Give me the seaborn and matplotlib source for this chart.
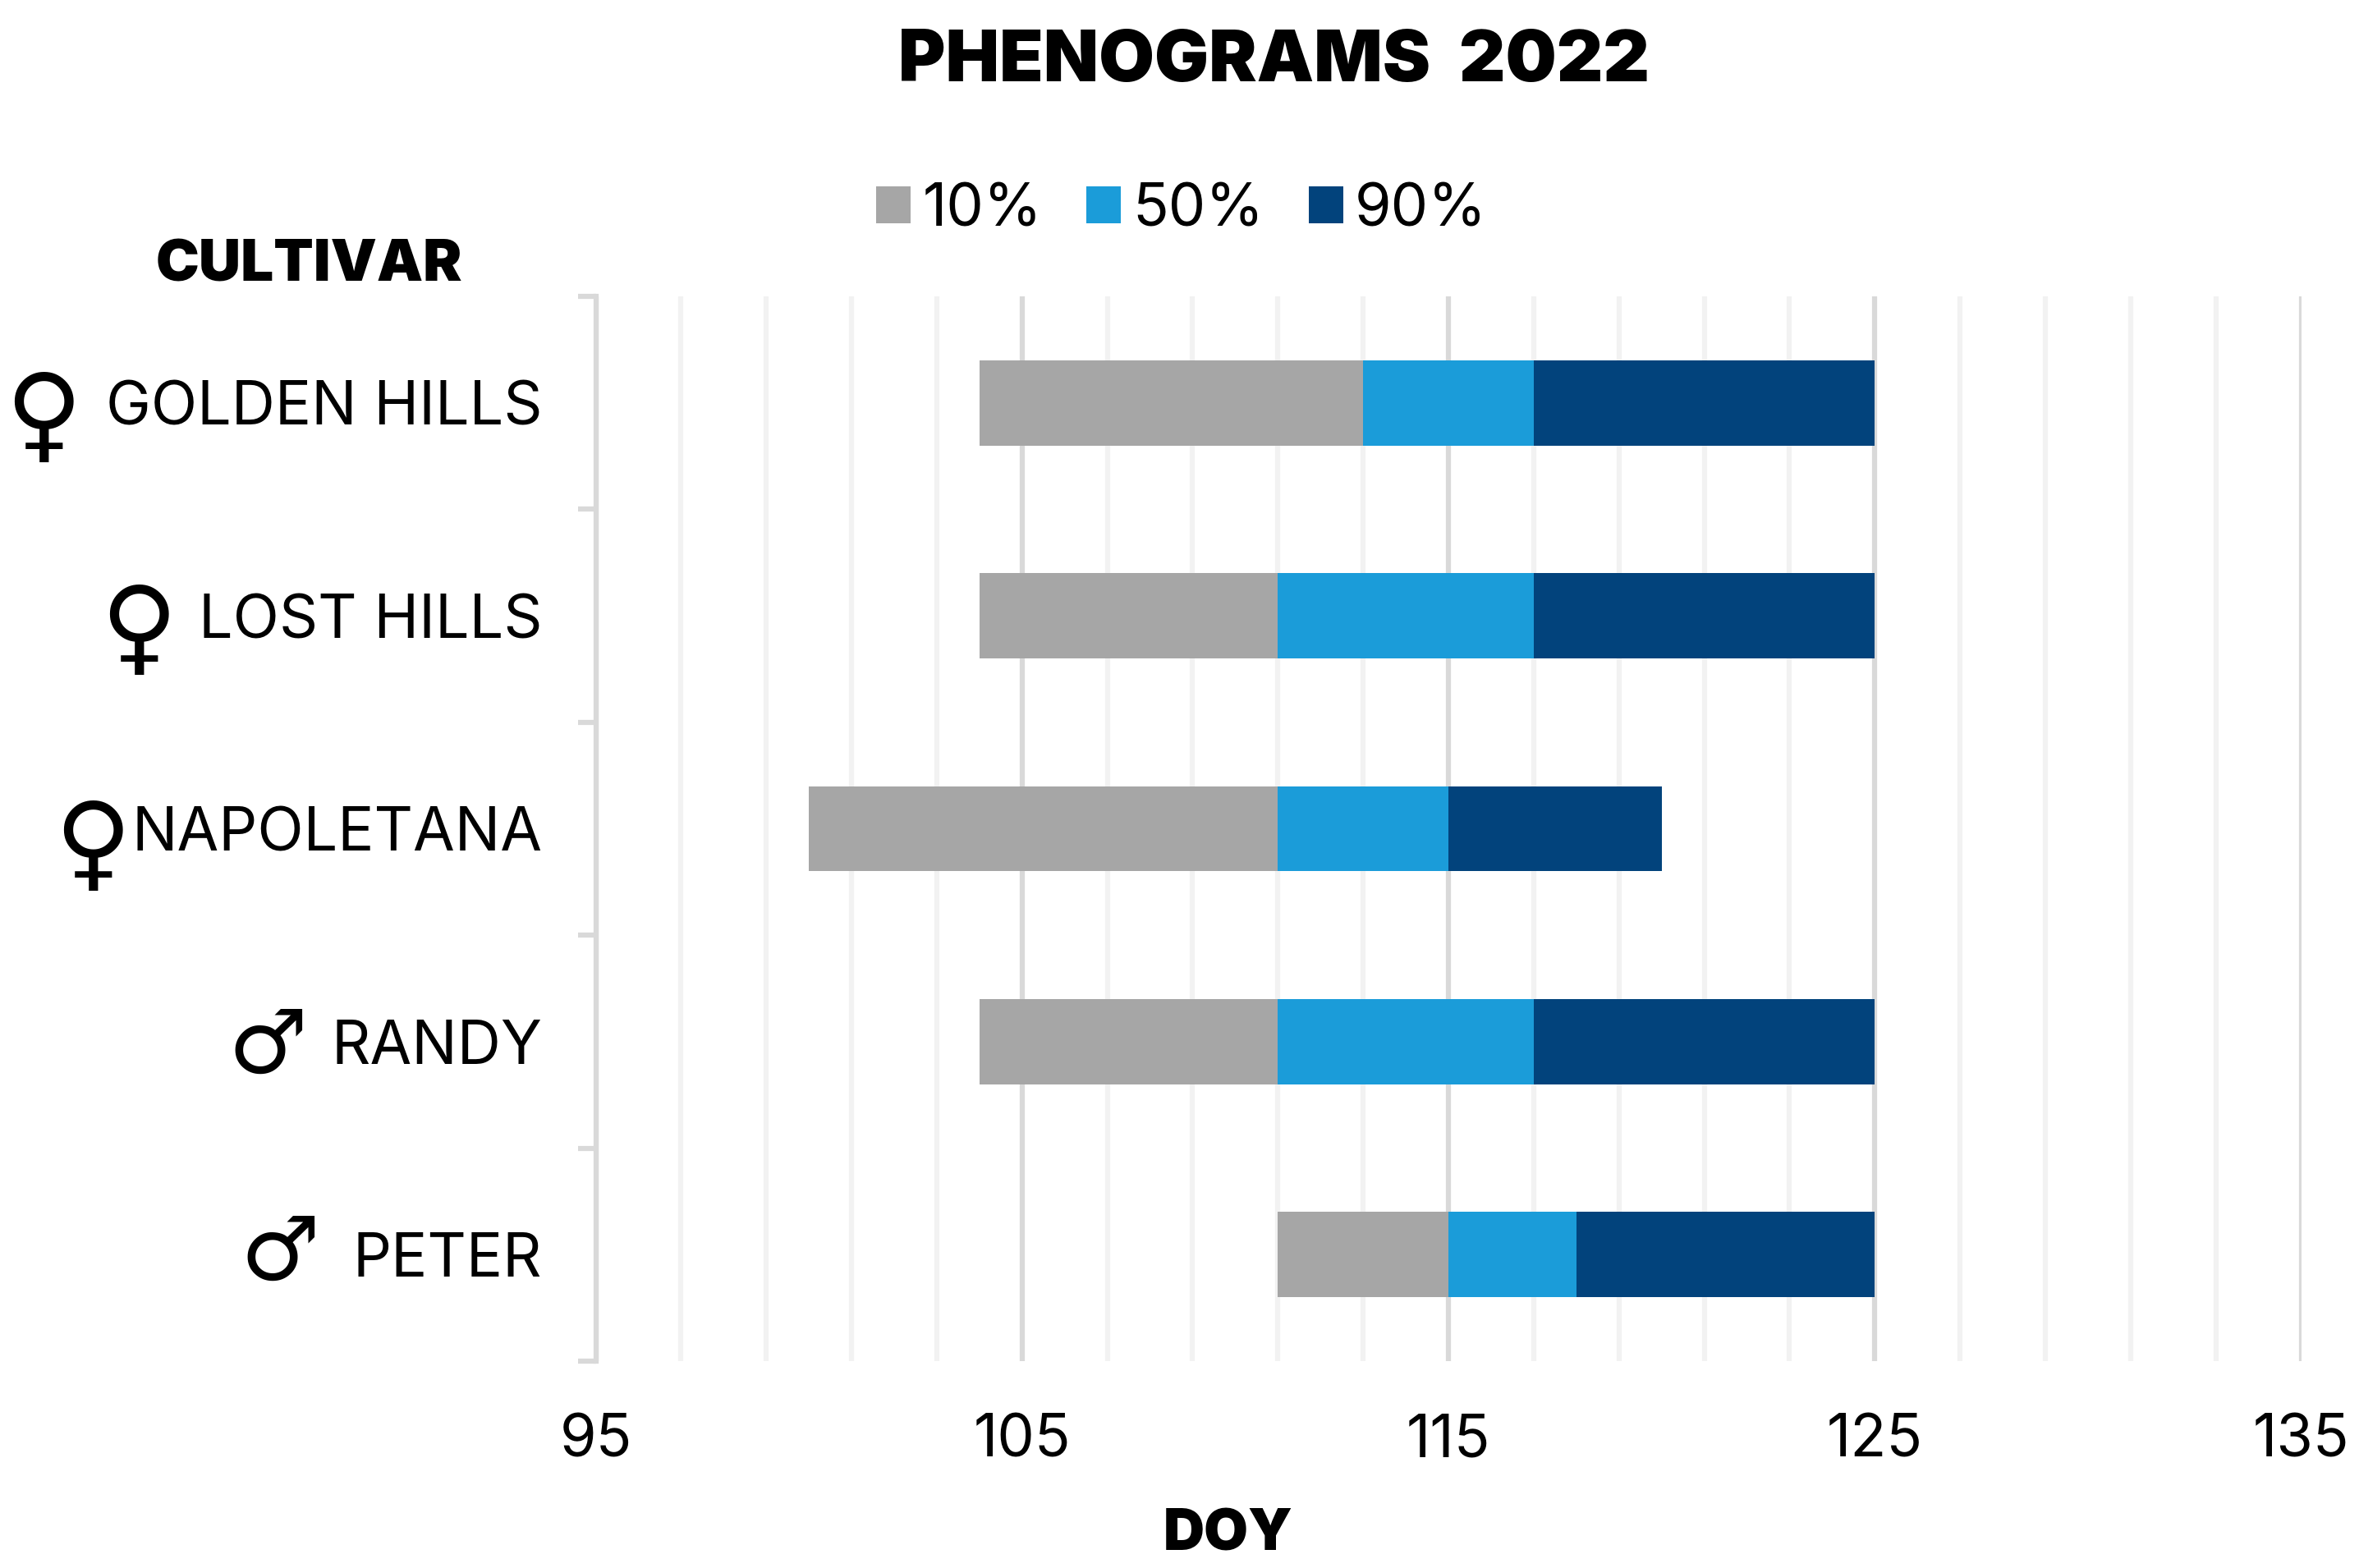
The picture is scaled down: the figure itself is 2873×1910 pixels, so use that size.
import matplotlib
matplotlib.use("Agg")
import matplotlib.pyplot as plt
import seaborn as sns
import numpy as np

cultivars = ["GOLDEN HILLS", "LOST HILLS", "NAPOLETANA", "RANDY", "PETER"]
doy_start = [104, 104, 100, 104, 111]
doy_10 = [113, 111, 111, 111, 115]
doy_50 = [117, 117, 115, 117, 118]
doy_90 = [125, 125, 120, 125, 125]
stage_labels = ["10%", "50%", "90%"]
stage_colors = ["#a6a6a6", "#1b9cd9", "#02437c"]
sex_symbols = ["\u2640", "\u2640", "\u2640", "\u2642", "\u2642"]

W, H = 2873, 1910
sns.set_style("white")
plt.rcParams["font.family"] = ["Inter", "DejaVu Sans"]
plt.rcParams["font.weight"] = "normal"

fig = plt.figure(figsize=(W / 100, H / 100), dpi=100)
ax = fig.add_axes([725.5 / W, 1 - 1658 / H, (2802.5 - 725.5) / W, (1658 - 361) / H])

# stacked segments, each one starts where the last ended
edges = [doy_start, doy_10, doy_50, doy_90]
for i in range(3):
    lefts = np.array(edges[i])
    widths = np.array(edges[i + 1]) - lefts
    sns.barplot(x=widths, y=cultivars, left=lefts, color=stage_colors[i], saturation=1,
                width=0.4, errorbar=None, label=stage_labels[i], linewidth=0, ax=ax)

ax.set_xlim(95, 135)
ax.set_ylim(4.5, -0.5)
ax.set_xticks([95, 105, 115, 125, 135])
ax.set_xticks(np.arange(95, 136, 2), minor=True)
ax.set_yticks(range(5), cultivars)
ax.set_yticks(np.arange(-0.5, 5), minor=True)
ax.set_axisbelow(True)
ax.grid(False)
ax.grid(axis="x", which="major", color="#d9d9d9", lw=4.5)
ax.grid(axis="x", which="minor", color="#f2f2f2", lw=4.5)
ax.tick_params(axis="x", which="both", length=0, labelsize=52, pad=46, labelcolor="black")
ax.tick_params(axis="y", which="major", length=0, labelsize=53, pad=47, labelcolor="black")
ax.tick_params(axis="y", which="minor", length=16, width=4.5, color="#d9d9d9", left=True)
ax.set_xlabel("")
ax.set_ylabel("")

sns.despine(ax=ax, left=False, bottom=True)
ax.spines["left"].set_color("#d9d9d9")
ax.spines["left"].set_linewidth(4.5)

handles, labels = ax.get_legend_handles_labels()
ax.get_legend().remove()
fig.legend(handles, labels, loc="center", bbox_to_anchor=(1439 / W, 1 - 256 / H), ncol=3,
           frameon=False, fontsize=52, labelcolor="black", handlelength=0.58, handleheight=0.58,
           handletextpad=0.2, columnspacing=0.75, borderpad=0)


def label_px(x, y, s, **kw):
    fig.text(x / W, 1 - y / H, s, ha="center", va="center", color="black", **kw)


label_px(1551, 76, "PHENOGRAMS  2022", fontsize=63, fontweight="black")
label_px(376, 324, "CULTIVAR", fontsize=51, fontweight="black")
label_px(1496, 1870, "DOY", fontsize=50, fontweight="black")

symbol_x = [53, 169, 113, 326, 341]
symbol_y = [511, 770, 1033, 1277, 1529]
symbol_size = [92, 92, 92, 78, 78]
for s, sx, sy, fs in zip(sex_symbols, symbol_x, symbol_y, symbol_size):
    label_px(sx, sy, s, fontsize=fs, family="DejaVu Sans")

fig.savefig("out.png", dpi=100, facecolor="white")
